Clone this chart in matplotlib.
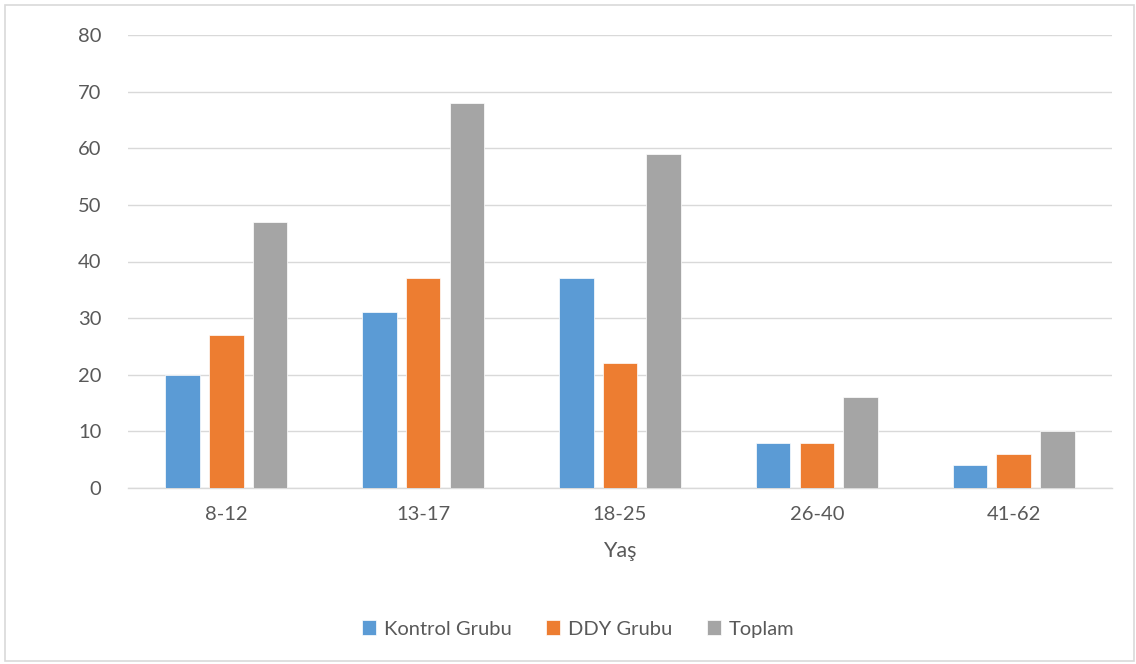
import numpy as np
import matplotlib
matplotlib.use("Agg")
from matplotlib import pyplot as plt
from matplotlib.patches import Rectangle

# data
categories = ["8-12", "13-17", "18-25", "26-40", "41-62"]
kontrol = [20, 31, 37, 8, 4]
ddy = [27, 37, 22, 8, 6]
toplam = [47, 68, 59, 16, 10]
series_names = ["Kontrol Grubu", "DDY Grubu", "Toplam"]
colors = ["#5B9BD5", "#ED7D31", "#A5A5A5"]

plt.rcParams["font.family"] = ["Lato", "DejaVu Sans"]
txt = "#595959"
grid = "#D9D9D9"

fig = plt.figure(figsize=(11.36, 6.64), dpi=100)
ax = fig.add_axes([128/1136, 1-488/664, (1112-128)/1136, (488-35)/664])

x = np.arange(len(categories))
w = 0.175
step = 0.222
for i, (vals, name, c) in enumerate(zip([kontrol, ddy, toplam], series_names, colors)):
    ax.bar(x + (i-1)*step, vals, w, color=c, label=name, zorder=3,
           edgecolor="white", linewidth=0.5)

ax.set_xlim(-0.5, len(categories)-0.5)
ax.set_ylim(0, 80)
ax.set_yticks(range(0, 81, 10))
ax.set_xticks(x)
ax.set_xticklabels(categories)
ax.yaxis.grid(True, color=grid, linewidth=1, zorder=0)
for s in ["top", "right", "left"]:
    ax.spines[s].set_visible(False)
ax.spines["bottom"].set_color(grid)
ax.spines["bottom"].set_linewidth(1)
ax.tick_params(length=0, labelsize=14.5, colors=txt, pad=13)
ax.tick_params(axis="y", pad=19)
ax.set_xlabel("Yaş", fontsize=15.5, color=txt, labelpad=13)

leg = fig.legend(loc="center", bbox_to_anchor=(578/1136, 1-629/664), ncol=3,
                 frameon=False, fontsize=14.5, handlelength=0.7, handleheight=0.7,
                 columnspacing=1.7, handletextpad=0.4)
for t in leg.get_texts():
    t.set_color(txt)

# outer chart border
fig.patches.append(Rectangle((5/1136, 3/664), 1129/1136, 656/664, transform=fig.transFigure,
                             fill=False, edgecolor=grid, linewidth=1.2))

fig.savefig("out.png", dpi=100)
